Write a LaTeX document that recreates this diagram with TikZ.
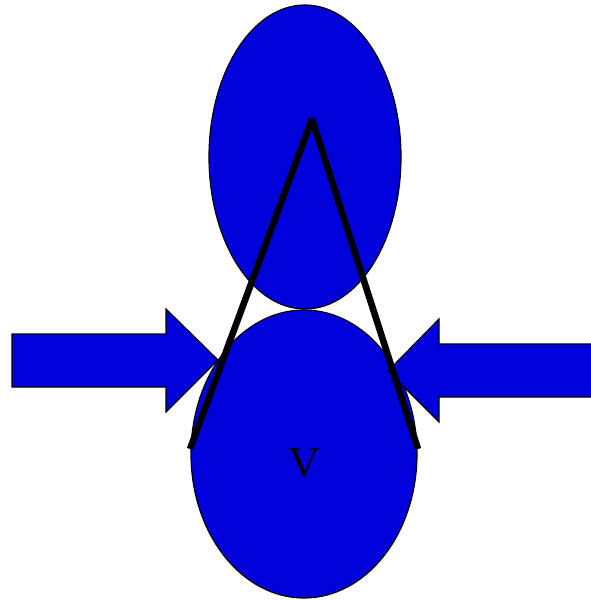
\documentclass[tikz,border=0pt]{standalone}
\usepackage{fontspec}
\setmainfont{Liberation Serif}
\usepackage{xcolor}
\definecolor{ballblue}{RGB}{0,0,218}

\begin{document}
\begin{tikzpicture}[x=1pt, y=-1pt,
    ball/.style={draw=black, line width=1.2pt, fill=ballblue},
    push/.style={draw=black, line width=1.2pt, fill=ballblue, line join=miter},
    leg/.style={draw=black, line width=6.6pt, line join=bevel}
]
\useasboundingbox (0,0) rectangle (590,600);
% two bodies
\draw[ball] (305,157) ellipse [x radius=96, y radius=152];
\draw[ball] (304,454) ellipse [x radius=113, y radius=144];
\node[font=\fontsize{44}{44}\selectfont, inner sep=0pt] (vlabel) at (304,463.5) {V};
% pushing arrows
\draw[push] (12,334) -- (166,334) -- (166,309) -- (218,360) -- (166,412)
    -- (166,387) -- (12,387) -- cycle;
\draw[push] (594,344) -- (439,344) -- (439,319) -- (388,371) -- (439,422)
    -- (439,397) -- (594,397) -- cycle;
% the legs
\coordinate (footL) at (190,449);
\coordinate (apex) at (312,119);
\coordinate (footR) at (418,449);
\draw[leg] (footL) -- (apex) -- (footR);
\end{tikzpicture}
\end{document}
